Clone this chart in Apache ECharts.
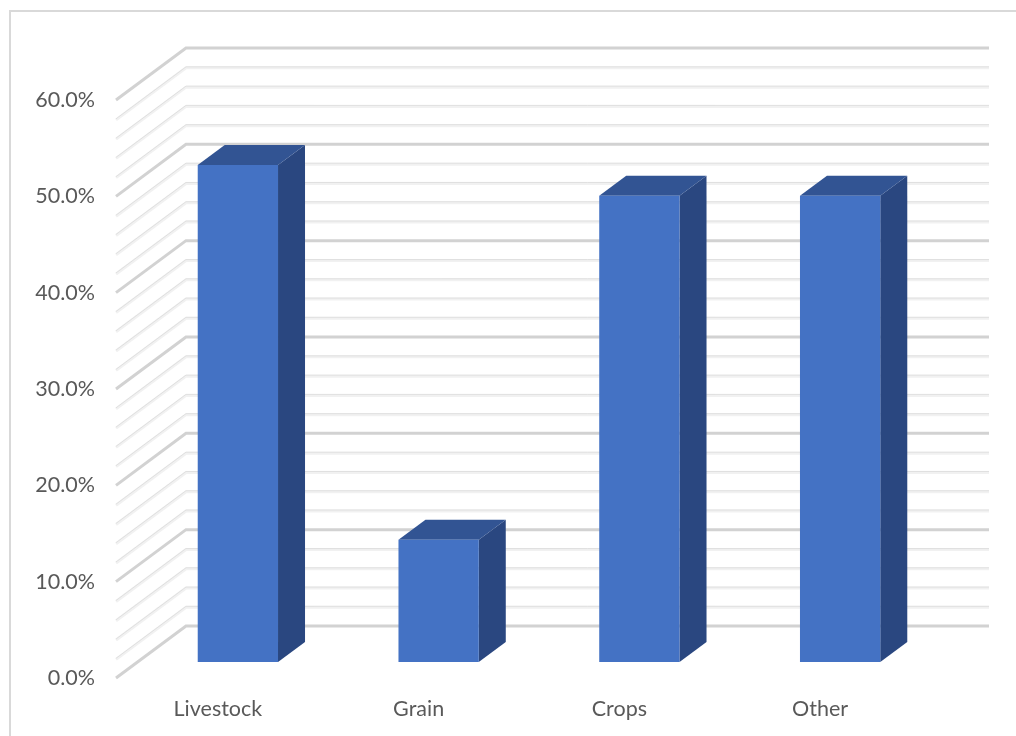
<!DOCTYPE html>
<html>
<head>
<meta charset="utf-8">
<style>html,body{margin:0;padding:0;background:#fff}#c{width:1016px;height:736px}</style>
<script src="https://cdn.jsdelivr.net/npm/echarts@6/dist/echarts.min.js"></script>
</head>
<body>
<div id="c"></div>
<script>
const categories = ['Livestock', 'Grain', 'Crops', 'Other'];
const shares = [51.6, 12.7, 48.4, 48.4];
const wallLevels = [0,2,4,6,8,10,12,14,16,18,20,22,24,26,28,30,32,34,36,38,40,42,44,46,48,50,52,54,56,58,60];
const majorLevels = [0,10,20,30,40,50,60];

const FONT = 'Lato, sans-serif';
const WALL = { dx: 70, dy: -52 };
const BAR_NEAR = { dx: 21.5, dy: -16 };
const BAR_FAR = { dx: 48.5, dy: -36 };

function renderWall(params, api) {
  const level = api.value(1);
  const cs = params.coordSys;
  const y = api.coord([0, level])[1];
  const pts = [[cs.x, y], [cs.x + WALL.dx, y + WALL.dy], [cs.x + cs.width + WALL.dx, y + WALL.dy]];
  const major = majorLevels.includes(level);
  const children = [];
  if (major) {
    children.push({ type: 'polyline', shape: { points: pts }, style: { fill: null, stroke: '#d2d2d2', lineWidth: 3 } });
  } else {
    children.push({ type: 'polyline', shape: { points: pts.map(p => [p[0], p[1] + 0.6]) }, style: { fill: null, stroke: '#f1f1f1', lineWidth: 3 } });
    children.push({ type: 'polyline', shape: { points: pts.map(p => [p[0], p[1] - 0.4]) }, style: { fill: null, stroke: '#dedede', lineWidth: 0.9 } });
  }
  return { type: 'group', children };
}

function renderBar(params, api) {
  const base = api.coord([api.value(0), 0]);
  const top = api.coord([api.value(0), api.value(1)]);
  const w = api.size([1, 0])[0] * 0.4;
  const l = base[0] - w / 2 + BAR_NEAR.dx, r = l + w;
  const yb = base[1] + BAR_NEAR.dy, yt = top[1] + BAR_NEAR.dy;
  const ddx = BAR_FAR.dx - BAR_NEAR.dx, ddy = BAR_FAR.dy - BAR_NEAR.dy;
  return {
    type: 'group',
    children: [
      { type: 'polygon', shape: { points: [[r, yt], [r + ddx, yt + ddy], [r + ddx, yb + ddy], [r, yb]] }, style: { fill: '#2A4780' } },
      { type: 'polygon', shape: { points: [[l, yt], [l + ddx, yt + ddy], [r + ddx, yt + ddy], [r, yt]] }, style: { fill: '#325493' } },
      { type: 'rect', shape: { x: l, y: yt, width: w, height: yb - yt }, style: { fill: '#4472C4' } }
    ]
  };
}

const chart = echarts.init(document.getElementById('c'), null, { renderer: 'canvas' });
chart.setOption({
  animation: false,
  backgroundColor: '#ffffff',
  graphic: [{
    type: 'polyline', silent: true, z: -1,
    shape: { points: [[10, 736], [10, 11], [1016, 11]] },
    style: { fill: null, stroke: '#d9d9d9', lineWidth: 2 }
  }],
  grid: { left: 116, right: 97, top: 100, bottom: 58 },
  xAxis: {
    type: 'category', data: categories,
    axisLine: { show: false }, axisTick: { show: false }, splitLine: { show: false },
    axisLabel: { color: '#595959', fontFamily: FONT, fontSize: 21.5, margin: 20, padding: [0, 0, 0, 3] }
  },
  yAxis: {
    type: 'value', min: 0, max: 60, interval: 10,
    axisLine: { show: false }, axisTick: { show: false }, splitLine: { show: false },
    axisLabel: { color: '#595959', fontFamily: FONT, fontSize: 21.5, margin: 21, padding: [4, 0, 0, 0], formatter: v => v.toFixed(1) + '%' }
  },
  series: [
    { type: 'custom', name: 'walls', clip: false, silent: true, z: 1, renderItem: renderWall,
      encode: { x: 0, y: 1 }, data: wallLevels.map(v => [0, v]) },
    { type: 'custom', name: 'Share', clip: false, z: 2, renderItem: renderBar,
      encode: { x: 0, y: 1 }, data: shares.map((v, i) => [i, v]) }
  ]
});
</script>
</body>
</html>
